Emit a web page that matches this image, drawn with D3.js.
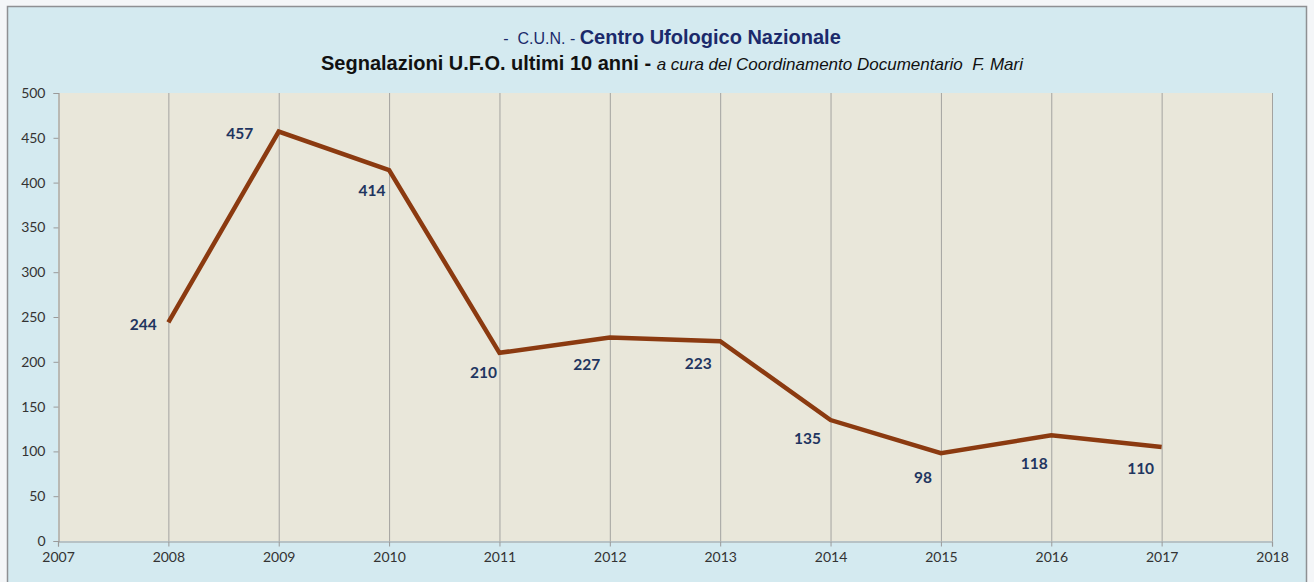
<!DOCTYPE html>
<html><head><meta charset="utf-8">
<script src="https://cdn.jsdelivr.net/npm/d3@7"></script>
<style>
html,body{margin:0;padding:0;background:#f4f6f8;}
svg{display:block;}
</style></head>
<body>
<svg id="chart" width="1314" height="582"></svg>
<script>
const years = [2008, 2009, 2010, 2011, 2012, 2013, 2014, 2015, 2016, 2017];
const values = [244, 457, 414, 210, 227, 223, 135, 98, 118, 105];
const labels = ["244", "457", "414", "210", "227", "223", "135", "98", "118", "110"];
const xTicks = [2007, 2008, 2009, 2010, 2011, 2012, 2013, 2014, 2015, 2016, 2017, 2018];
const yTicks = [0, 50, 100, 150, 200, 250, 300, 350, 400, 450, 500];
// label placement offsets (layout, px) relative to each point
const labelDx = [-25, -39, -17, -16, -23, -22, -23, -18, -17, -21];
const labelDy = [2, 1, 20, 19, 26, 22, 18, 24, 28, 21];

const svg = d3.select("#chart");
const pL = 58, pR = 1272, pT = 93, pB = 541;

// outer frame
svg.append("rect").attr("x", 7.5).attr("y", 6.5).attr("width", 1299).attr("height", 590)
  .attr("fill", "#d4eaf0").attr("stroke", "#8e9093").attr("stroke-width", 1.5);

const x = d3.scaleLinear().domain([2007, 2018]).range([pL, pR]);
const y = d3.scaleLinear().domain([0, 500]).range([pB, pT]);

// plot area
svg.append("rect").attr("x", pL).attr("y", pT).attr("width", pR - pL).attr("height", pB - pT)
  .attr("fill", "#e9e7da");

// vertical gridlines
svg.append("g").selectAll("line").data(xTicks.slice(1)).join("line")
  .attr("x1", d => x(d) + 0.5).attr("x2", d => x(d) + 0.5)
  .attr("y1", pT).attr("y2", pB)
  .attr("stroke", "#a3a3a0").attr("stroke-width", 1);

// y axis
const yAxis = svg.append("g").attr("transform", `translate(${pL + 0.5},0)`)
  .call(d3.axisLeft(y).tickValues(yTicks).tickSize(5).tickPadding(8).tickFormat(d3.format("d")));
yAxis.select(".domain").attr("stroke", "#9a9a9a").attr("stroke-width", 1.2);
yAxis.selectAll(".tick line").attr("stroke", "#9a9a9a");
yAxis.selectAll("text").attr("fill", "#333").style("font-family", "Lato, 'Open Sans', sans-serif").style("font-size", "14px");

// x axis
const xAxis = svg.append("g").attr("transform", `translate(0,${pB + 0.5})`)
  .call(d3.axisBottom(x).tickValues(xTicks).tickSize(5).tickPadding(6).tickFormat(d3.format("d")));
xAxis.select(".domain").attr("stroke", "#9a9a9a").attr("stroke-width", 1.2);
xAxis.selectAll(".tick line").attr("stroke", "#9a9a9a");
xAxis.selectAll("text").attr("fill", "#333").style("font-family", "Lato, 'Open Sans', sans-serif").style("font-size", "14px");

// line
const data = years.map((yr, i) => ({yr, v: values[i], lab: labels[i], dx: labelDx[i], dy: labelDy[i]}));
svg.append("path").datum(data)
  .attr("d", d3.line().x(d => x(d.yr)).y(d => y(d.v)))
  .attr("fill", "none").attr("stroke", "#8b3a10").attr("stroke-width", 4.5)
  .attr("stroke-linejoin", "miter");

// data labels
svg.append("g").selectAll("text").data(data).join("text")
  .attr("x", d => x(d.yr) + d.dx).attr("y", d => y(d.v) + d.dy)
  .attr("text-anchor", "middle").attr("dominant-baseline", "central")
  .attr("fill", "#1f3560").style("font-family", "Lato, 'Open Sans', sans-serif")
  .style("font-weight", "bold").style("font-size", "15.5px")
  .text(d => d.lab);

// titles
const ff = "'Liberation Sans', Arial, sans-serif";
const t1 = svg.append("text").attr("x", 672).attr("y", 44).attr("text-anchor", "middle")
  .style("font-family", ff).attr("fill", "#1b2a6b").style("white-space", "pre");
t1.append("tspan").style("font-size", "16px").text("-  C.U.N. - ");
t1.append("tspan").style("font-size", "20px").style("font-weight", "bold").text("Centro Ufologico Nazionale");

const t2 = svg.append("text").attr("x", 672).attr("y", 70).attr("text-anchor", "middle")
  .style("font-family", ff).attr("fill", "#111").style("white-space", "pre");
t2.append("tspan").style("font-size", "20px").style("font-weight", "bold").text("Segnalazioni U.F.O. ultimi 10 anni - ");
t2.append("tspan").style("font-size", "17px").style("font-style", "italic").text("a cura del Coordinamento Documentario  F. Mari");
</script>
</body></html>
